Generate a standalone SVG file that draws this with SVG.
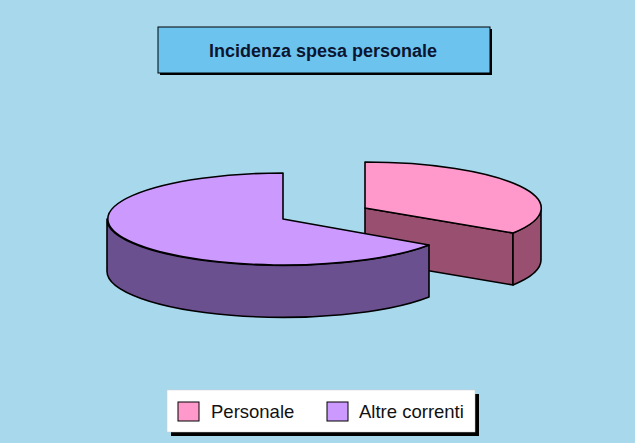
<svg xmlns="http://www.w3.org/2000/svg" width="635" height="443" viewBox="0 0 635 443">
  <style>
    .edge { stroke: #000; stroke-width: 1.6; stroke-linejoin: round; }
    .title { font-family: "Liberation Sans", Arial, sans-serif; font-weight: bold; font-size: 18px; fill: #0d1530; }
    .leg { font-family: "Liberation Sans", Arial, sans-serif; font-size: 18.5px; fill: #111; }
  </style>
  <rect x="0" y="0" width="635" height="443" fill="#A8D8EC"/>

  <g id="title">
    <rect x="160" y="29" width="332" height="46" fill="#000"/>
    <rect x="158" y="27" width="332" height="46" fill="#6CC4EE" stroke="#000" stroke-width="1"/>
    <text class="title" x="323" y="57" text-anchor="middle">Incidenza spesa personale</text>
  </g>

  <g id="slice-personale">
    <path class="edge" fill="#995070" d="M 365,208 L 513,233 L 513,285 L 365,260 Z"/>
    <path class="edge" fill="#995070" d="M 541,208 A 176 46 0 0 1 513,233 L 513,285 A 176 46 0 0 0 541,260 Z"/>
    <path class="edge" fill="#FF99CC" d="M 365,208 L 365,162 A 176 46 0 0 1 513,233 Z"/>
  </g>

  <g id="slice-altre">
    <path class="edge" fill="#6B5090" d="M 429,245 L 429,297 A 176 46 0 0 1 107,271 L 107,219 A 176 46 0 0 0 429,245 Z"/>
    <path class="edge" fill="#CC99FF" d="M 283,219 L 283,173 A 176 46 0 1 0 429,245 Z"/>
  </g>

  <g id="legend">
    <rect x="171" y="394" width="308" height="42" fill="#000"/>
    <rect x="167" y="390" width="308" height="42" fill="#FFFFFF" stroke="#ccc" stroke-width="0.5"/>
    <rect x="178" y="402" width="21" height="19" fill="#FF99CC" stroke="#000" stroke-width="1"/>
    <text class="leg" x="211" y="418">Personale</text>
    <rect x="327" y="402" width="21" height="19" fill="#CC99FF" stroke="#000" stroke-width="1"/>
    <text class="leg" x="359" y="418">Altre correnti</text>
  </g>
</svg>
